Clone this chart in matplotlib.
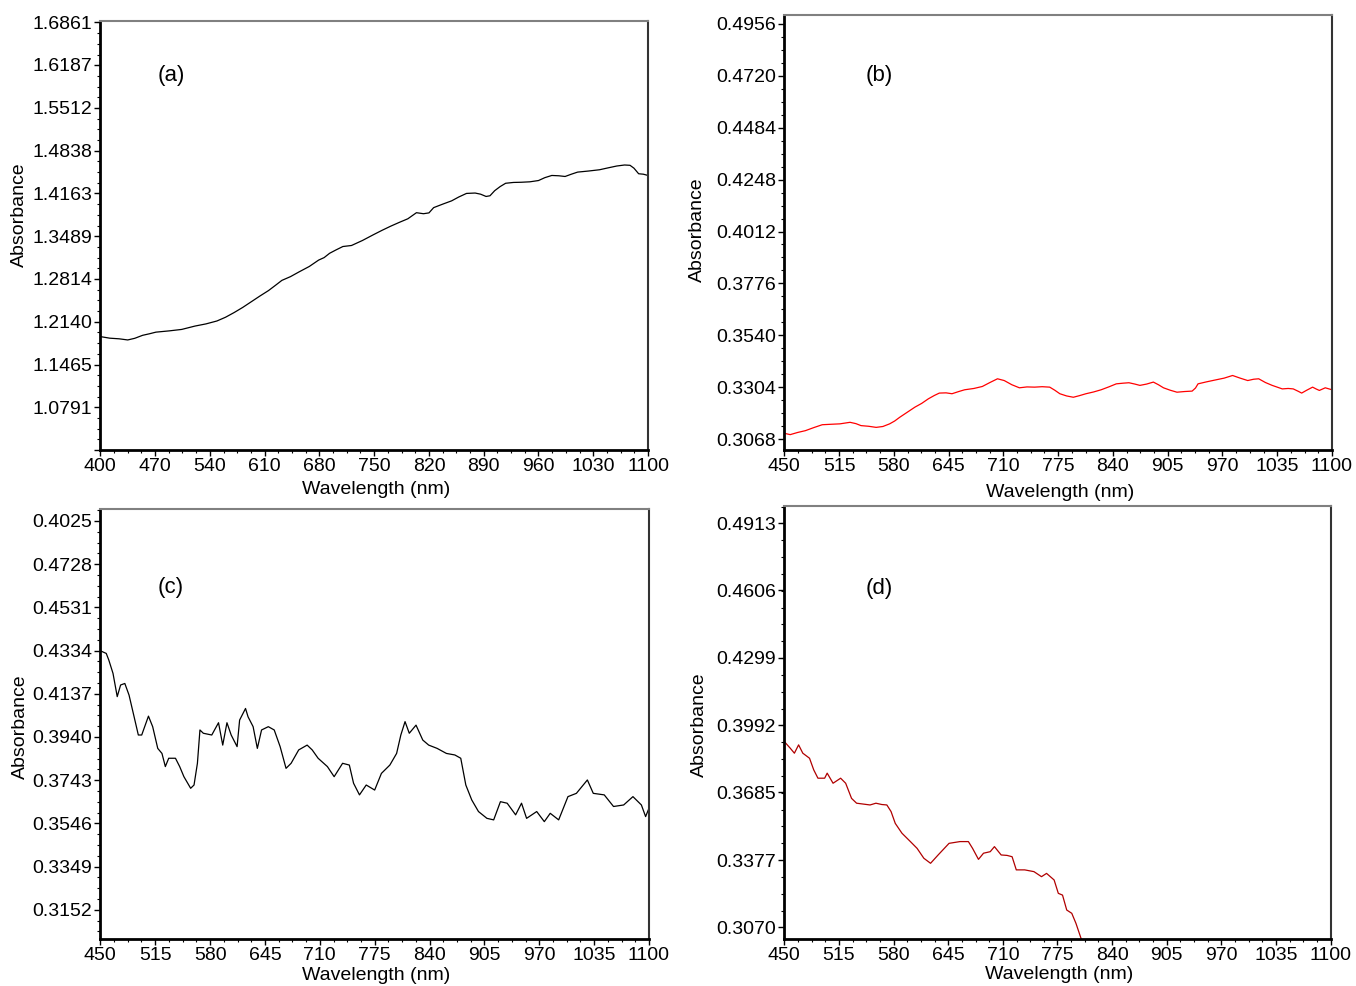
import matplotlib
matplotlib.use("Agg")
import numpy as np
import matplotlib.pyplot as plt
from matplotlib.ticker import FixedLocator, FixedFormatter, AutoMinorLocator

plt.rcParams["font.family"] = ["Liberation Sans", "DejaVu Sans"]

# ---- panel (a) ----
wl_a = [400, 412, 424, 435, 444, 454, 463, 471, 488, 504, 521, 535, 549, 560, 571, 582,
        593, 604, 615, 624, 632, 643, 654, 667, 679, 686, 693, 701, 710, 721, 735, 749,
        760, 771, 782, 793, 804, 813, 820, 826, 838, 849, 858, 868, 879, 886, 893, 898,
        904, 911, 918, 928, 938, 949, 960, 968, 977, 986, 994, 1002, 1010, 1024, 1038,
        1049, 1060, 1070, 1077, 1082, 1088, 1094, 1100]
ab_a = [1.1905, 1.1880, 1.1870, 1.1852, 1.1878, 1.1925, 1.1950, 1.1975, 1.1995, 1.2018,
        1.2071, 1.2105, 1.2151, 1.2210, 1.2284, 1.2365, 1.2455, 1.2545, 1.2631, 1.2715,
        1.2791, 1.2850, 1.2925, 1.3010, 1.3111, 1.3150, 1.3218, 1.3270, 1.3325, 1.3341,
        1.3420, 1.3511, 1.3580, 1.3645, 1.3705, 1.3762, 1.3858, 1.3842, 1.3855, 1.3938,
        1.3995, 1.4045, 1.4105, 1.4162, 1.4168, 1.4150, 1.4114, 1.4125, 1.4205, 1.4270,
        1.4322, 1.4335, 1.4338, 1.4345, 1.4365, 1.4410, 1.4445, 1.4440, 1.4429, 1.4465,
        1.4498, 1.4515, 1.4535, 1.4565, 1.4594, 1.4610, 1.4605, 1.4560, 1.4472, 1.4465,
        1.4445]

# ---- panel (b) ----
wl_b = [450, 457, 466, 475, 485, 495, 505, 516, 528, 535, 541, 550, 559, 567, 575, 581,
        587, 596, 605, 613, 621, 628, 634, 642, 649, 657, 664, 675, 685, 694, 703, 711,
        720, 729, 738, 747, 756, 765, 771, 777, 785, 793, 800, 808, 817, 826, 835, 844,
        852, 859, 866, 872, 880, 888, 894, 900, 908, 916, 925, 934, 938, 941, 951, 962,
        972, 982, 991, 1000, 1007, 1013, 1021, 1029, 1035, 1041, 1048, 1054, 1060, 1064,
        1070, 1077, 1081, 1085, 1092, 1100]
ab_b = [0.3094, 0.3088, 0.3098, 0.3106, 0.3120, 0.3133, 0.3135, 0.3137, 0.3144, 0.3138,
        0.3129, 0.3126, 0.3121, 0.3125, 0.3137, 0.3150, 0.3167, 0.3190, 0.3213, 0.3230,
        0.3251, 0.3266, 0.3277, 0.3278, 0.3274, 0.3284, 0.3292, 0.3298, 0.3307, 0.3325,
        0.3342, 0.3334, 0.3315, 0.3301, 0.3305, 0.3304, 0.3306, 0.3304, 0.3290, 0.3274,
        0.3264, 0.3258, 0.3265, 0.3274, 0.3282, 0.3292, 0.3305, 0.3319, 0.3322, 0.3324,
        0.3318, 0.3312, 0.3318, 0.3327, 0.3315, 0.3301, 0.3290, 0.3281, 0.3284, 0.3286,
        0.3300, 0.3319, 0.3328, 0.3337, 0.3345, 0.3357, 0.3345, 0.3334, 0.3340, 0.3342,
        0.3325, 0.3312, 0.3304, 0.3296, 0.3298, 0.3296, 0.3285, 0.3277, 0.3290, 0.3304,
        0.3296, 0.3289, 0.3301, 0.3292]

# ---- panel (c) ----
wl_c = [450, 457, 460, 465, 470, 474, 479, 484, 490, 495, 499, 507, 512, 518, 523, 527,
        531, 539, 544, 549, 557, 561, 565, 568, 572, 582, 590, 595, 600, 605, 612, 615,
        622, 625, 631, 636, 641, 649, 656, 663, 670, 676, 685, 695, 701, 708, 719, 727,
        737, 745, 750, 757, 765, 775, 783, 793, 801, 806, 811, 816, 824, 832, 839, 849,
        860, 870, 877, 883, 890, 898, 908, 916, 924, 932, 942, 949, 955, 967, 976, 983,
        993, 1004, 1014, 1027, 1034, 1047, 1058, 1070, 1081, 1091, 1096, 1100]
ab_c = [0.4333, 0.4321, 0.4291, 0.4230, 0.4124, 0.4177, 0.4184, 0.4131, 0.4032, 0.3949,
        0.3949, 0.4035, 0.3987, 0.3888, 0.3865, 0.3805, 0.3843, 0.3843, 0.3805, 0.3759,
        0.3706, 0.3721, 0.3820, 0.3972, 0.3957, 0.3949, 0.4005, 0.3903, 0.4005, 0.3949,
        0.3896, 0.4017, 0.4070, 0.4032, 0.3987, 0.3888, 0.3972, 0.3987, 0.3972, 0.3896,
        0.3797, 0.3820, 0.3881, 0.3903, 0.3881, 0.3843, 0.3805, 0.3759, 0.3820, 0.3812,
        0.3729, 0.3676, 0.3721, 0.3698, 0.3774, 0.3812, 0.3865, 0.3949, 0.4010, 0.3957,
        0.3994, 0.3926, 0.3903, 0.3888, 0.3865, 0.3858, 0.3843, 0.3721, 0.3653, 0.3600,
        0.3569, 0.3562, 0.3645, 0.3638, 0.3585, 0.3638, 0.3569, 0.3600, 0.3554, 0.3592,
        0.3562, 0.3668, 0.3683, 0.3744, 0.3683, 0.3676, 0.3623, 0.3630, 0.3668, 0.3630,
        0.3577, 0.3615]

# ---- panel (d) ----
wl_d = [450, 457, 462, 467, 472, 480, 485, 490, 498, 501, 508, 517, 523, 530, 536, 544,
        552, 559, 566, 572, 577, 582, 590, 600, 608, 616, 624, 633, 646, 659, 669, 674,
        681, 687, 695, 700, 708, 715, 721, 726, 736, 747, 756, 762, 771, 776, 781, 786,
        792, 797, 803, 808]
ab_d = [0.3917, 0.3887, 0.3864, 0.3902, 0.3864, 0.3841, 0.3788, 0.3750, 0.3750, 0.3773,
        0.3727, 0.3750, 0.3727, 0.3658, 0.3636, 0.3632, 0.3628, 0.3636, 0.3630, 0.3628,
        0.3598, 0.3544, 0.3499, 0.3461, 0.3430, 0.3385, 0.3362, 0.3400, 0.3453, 0.3461,
        0.3461, 0.3430, 0.3380, 0.3408, 0.3415, 0.3438, 0.3400, 0.3398, 0.3392, 0.3332,
        0.3332, 0.3324, 0.3301, 0.3316, 0.3286, 0.3225, 0.3217, 0.3149, 0.3134, 0.3088,
        0.3020, 0.2980]

# tick values / labels as printed on the original
xt_a = [400, 470, 540, 610, 680, 750, 820, 890, 960, 1030, 1100]
xt_bcd = [450, 515, 580, 645, 710, 775, 840, 905, 970, 1035, 1100]
yt_a = [1.6861, 1.6187, 1.5512, 1.4838, 1.4163, 1.3489, 1.2814, 1.2140, 1.1465, 1.0791, 1.0117]
yl_a = ["1.6861", "1.6187", "1.5512", "1.4838", "1.4163", "1.3489", "1.2814", "1.2140",
        "1.1465", "1.0791", ""]
yt_b = [0.4956, 0.4720, 0.4484, 0.4248, 0.4012, 0.3776, 0.3540, 0.3304, 0.3068]
yl_b = ["0.4956", "0.4720", "0.4484", "0.4248", "0.4012", "0.3776", "0.3540", "0.3304", "0.3068"]
yt_c = [0.4925, 0.4728, 0.4531, 0.4334, 0.4137, 0.3940, 0.3743, 0.3546, 0.3349, 0.3152]
yl_c = ["0.4025", "0.4728", "0.4531", "0.4334", "0.4137", "0.3940", "0.3743", "0.3546",
        "0.3349", "0.3152"]
yt_d = [0.4913, 0.4606, 0.4299, 0.3992, 0.3685, 0.3377, 0.3070]
yl_d = ["0.4913", "0.4606", "0.4299", "0.3992", "0.3685", "0.3377", "0.3070"]

FS = 14

panels = [
    # rect, x, y, color, xticks, ylim, yticks, ylabels, tag, tag pos, ylabel pos, xlabel y
    ([0.0740, 0.5436, 0.4039, 0.4351], wl_a, ab_a, "black", xt_a,
     (1.0117, 1.6880), yt_a, yl_a, "(a)", (0.129, 0.872), (-0.147, 0.548), -0.091),
    ([0.5784, 0.5436, 0.4039, 0.4412], wl_b, ab_b, "#ff0000", xt_bcd,
     (0.3018, 0.4997), yt_b, yl_b, "(b)", (0.173, 0.860), (-0.159, 0.506), -0.097),
    ([0.0740, 0.0477, 0.4046, 0.4364], wl_c, ab_c, "black", xt_bcd,
     (0.3019, 0.4981), yt_c, yl_c, "(c)", (0.129, 0.816), (-0.146, 0.493), -0.084),
    ([0.5784, 0.0477, 0.4029, 0.4391], wl_d, ab_d, "#b00000", xt_bcd,
     (0.3017, 0.4991), yt_d, yl_d, "(d)", (0.173, 0.810), (-0.156, 0.494), -0.083),
]

fig = plt.figure(figsize=(13.56, 9.86), dpi=100)

for rect, x, y, col, xt, ylim, yt, yl, tag, tpos, lpos, xly in panels:
    ax = fig.add_axes(rect)
    ax.plot(x, y, color=col, lw=0.9)
    ax.set_xlim(xt[0], xt[-1])
    ax.set_ylim(*ylim)
    ax.xaxis.set_major_locator(FixedLocator(xt))
    ax.xaxis.set_minor_locator(AutoMinorLocator(4))
    ax.yaxis.set_major_locator(FixedLocator(yt))
    ax.yaxis.set_major_formatter(FixedFormatter(yl))
    ax.yaxis.set_minor_locator(AutoMinorLocator(4))
    ax.tick_params(which="major", direction="out", length=4, width=1, labelsize=FS, pad=2)
    ax.tick_params(which="minor", direction="out", length=2.5, width=0.8)
    for s in ("left", "bottom"):
        ax.spines[s].set_linewidth(2)
        ax.spines[s].set_color("black")
    ax.spines["top"].set_color("#808080")
    ax.spines["top"].set_linewidth(1.5)
    ax.spines["right"].set_color("#333333")
    ax.spines["right"].set_linewidth(1.5)
    ax.text(tpos[0], tpos[1], tag, transform=ax.transAxes, fontsize=FS + 2,
            ha="center", va="center")
    ax.text(lpos[0], lpos[1], "Absorbance", transform=ax.transAxes, fontsize=FS,
            rotation=90, ha="center", va="center")
    ax.text(0.503, xly, "Wavelength (nm)", transform=ax.transAxes, fontsize=FS,
            ha="center", va="center")

fig.savefig("out.png", dpi=100)
